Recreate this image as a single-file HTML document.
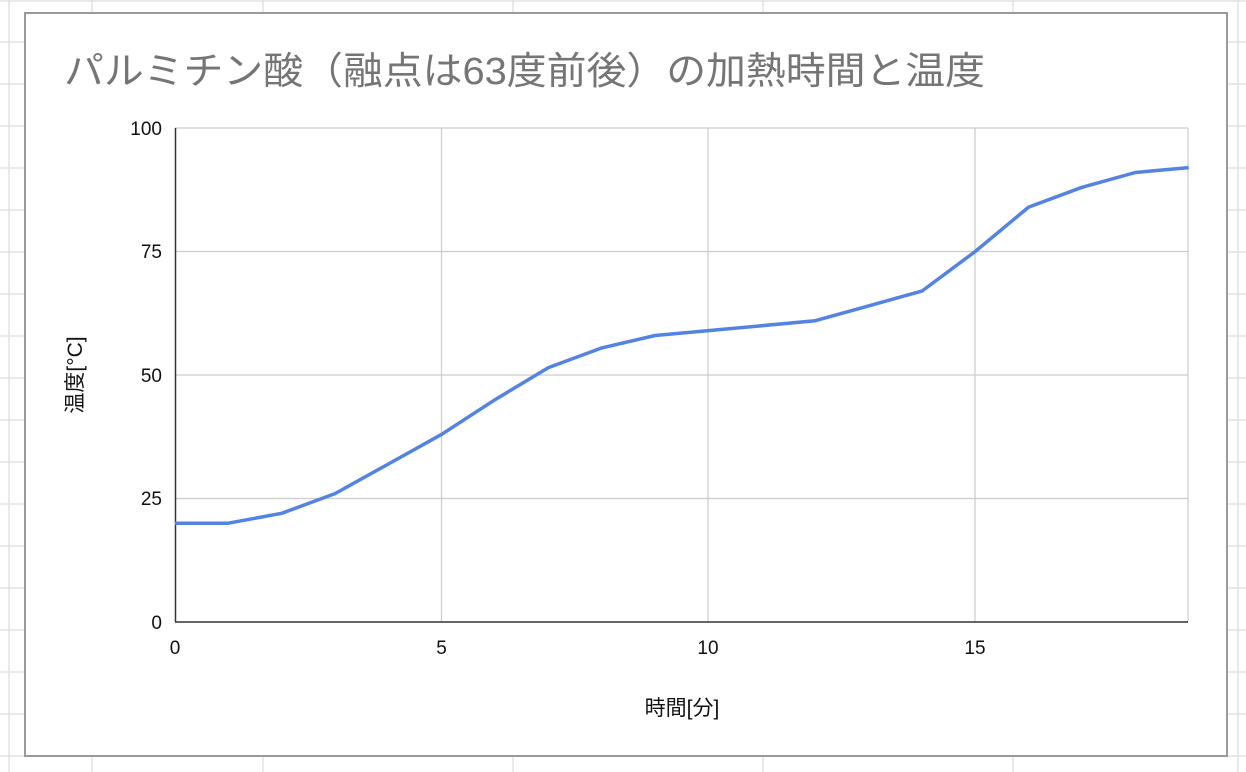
<!DOCTYPE html>
<html><head><meta charset="utf-8"><style>
body{margin:0;width:1246px;height:772px;overflow:hidden;background:#fff;font-family:"Liberation Sans","Noto Sans CJK JP",sans-serif;}
</style></head><body>
<svg width="1246" height="772" xmlns="http://www.w3.org/2000/svg" style="position:absolute;left:0;top:0">
<g stroke="#e2e2e2" stroke-width="1.5">
<line x1="9" y1="0" x2="9" y2="772"/><line x1="92" y1="0" x2="92" y2="772"/><line x1="263" y1="0" x2="263" y2="772"/><line x1="513" y1="0" x2="513" y2="772"/><line x1="763" y1="0" x2="763" y2="772"/><line x1="1013" y1="0" x2="1013" y2="772"/><line x1="1238" y1="0" x2="1238" y2="772"/>
<line x1="0" y1="1" x2="1246" y2="1"/>
<line x1="0" y1="42" x2="1246" y2="42"/><line x1="0" y1="84" x2="1246" y2="84"/><line x1="0" y1="126" x2="1246" y2="126"/><line x1="0" y1="168" x2="1246" y2="168"/><line x1="0" y1="210" x2="1246" y2="210"/><line x1="0" y1="252" x2="1246" y2="252"/><line x1="0" y1="294" x2="1246" y2="294"/><line x1="0" y1="336" x2="1246" y2="336"/><line x1="0" y1="378" x2="1246" y2="378"/><line x1="0" y1="420" x2="1246" y2="420"/><line x1="0" y1="462" x2="1246" y2="462"/><line x1="0" y1="504" x2="1246" y2="504"/><line x1="0" y1="546" x2="1246" y2="546"/><line x1="0" y1="588" x2="1246" y2="588"/><line x1="0" y1="630" x2="1246" y2="630"/><line x1="0" y1="672" x2="1246" y2="672"/><line x1="0" y1="714" x2="1246" y2="714"/><line x1="0" y1="756" x2="1246" y2="756"/>
</g>
<rect x="25" y="13" width="1202" height="743" fill="#fff" stroke="#9a9a9a" stroke-width="2"/>
<text x="64" y="84" font-size="38" fill="#757575" textLength="921" lengthAdjust="spacingAndGlyphs">パルミチン酸（融点は63度前後）の加熱時間と温度</text>
<g stroke="#cccccc" stroke-width="1.2">
<line x1="175" y1="128" x2="1188" y2="128"/><line x1="175" y1="251.5" x2="1188" y2="251.5"/><line x1="175" y1="375" x2="1188" y2="375"/><line x1="175" y1="498.5" x2="1188" y2="498.5"/>
<line x1="441.5" y1="128" x2="441.5" y2="622"/><line x1="708" y1="128" x2="708" y2="622"/><line x1="975" y1="128" x2="975" y2="622"/><line x1="1188" y1="128" x2="1188" y2="622"/>
</g>
<line x1="175.5" y1="128" x2="175.5" y2="622" stroke="#333" stroke-width="1.5"/>
<line x1="175" y1="622" x2="1188" y2="622" stroke="#333" stroke-width="1.5"/>
<g font-size="19" fill="#111" text-anchor="end">
<text x="162" y="135">100</text><text x="162" y="258">75</text><text x="162" y="382">50</text><text x="162" y="505">25</text><text x="162" y="629">0</text>
</g>
<g font-size="19" fill="#111" text-anchor="middle">
<text x="175" y="654">0</text><text x="441.5" y="654">5</text><text x="708" y="654">10</text><text x="975" y="654">15</text>
<text x="682" y="715" font-size="21">時間[分]</text>
</g>
<text transform="translate(82,375) rotate(-90)" font-size="21" fill="#111" text-anchor="middle">温度[°C]</text>
<polyline fill="none" stroke="#5383e3" stroke-width="3.5" stroke-linejoin="round" points="175,523.2 228.3,523.2 281.7,513.3 335,493.6 388.4,464 441.7,434.3 495,399.7 548.4,367.6 601.8,347.9 655.1,335.5 708.5,330.6 761.8,325.7 815.2,320.7 868.5,305.9 921.9,291.1 975.2,251.5 1028.6,207.1 1082,187.3 1135.3,172.5 1188.7,167.6"/>
</svg>
</body></html>
